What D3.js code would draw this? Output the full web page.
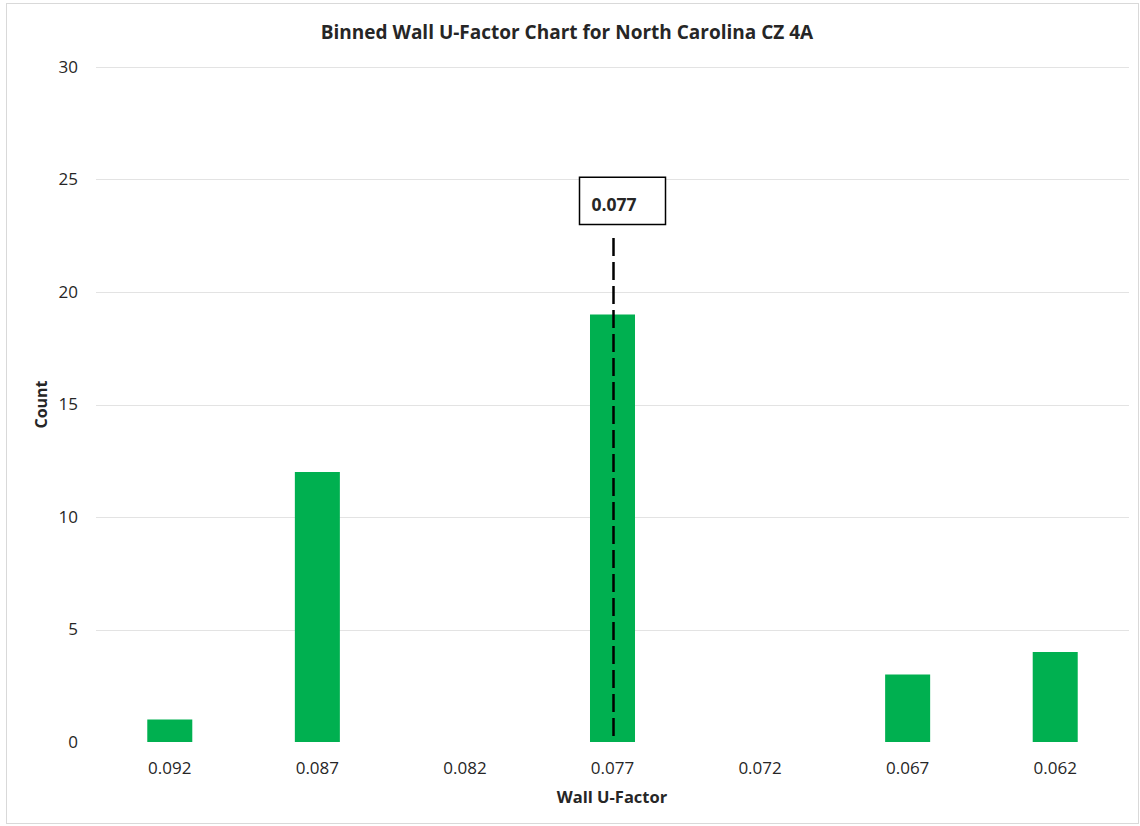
<!DOCTYPE html>
<html><head><meta charset="utf-8">
<script src="https://cdn.jsdelivr.net/npm/d3@7"></script>
<style>
html,body{margin:0;padding:0;background:#fff;}
svg{display:block;}
text{font-family:"Open Sans","Lato",sans-serif;fill:#262626;}
</style></head>
<body>
<svg id="chart" width="1140" height="826"></svg>
<script>
const categories = ["0.092","0.087","0.082","0.077","0.072","0.067","0.062"];
const counts = [1, 12, 0, 19, 0, 3, 4];
const yTicks = [0, 5, 10, 15, 20, 25, 30];
const markerCategory = "0.077";
const markerLabel = "0.077";
const title = "Binned Wall U-Factor Chart for North Carolina CZ 4A";
const xTitle = "Wall U-Factor";
const yTitle = "Count";

const svg = d3.select("#chart");
const W = 1140, H = 826;
const plot = {left: 96, right: 1129, top: 67, bottom: 742};

// outer chart border
svg.append("rect").attr("x", 6.5).attr("y", 3.5).attr("width", W - 8).attr("height", H - 6)
  .attr("fill", "#fff").attr("stroke", "#d9d9d9").attr("stroke-width", 1);

const x = d3.scaleBand().domain(categories).range([plot.left, plot.right]).paddingInner(0.695).paddingOuter(0.3475);
const y = d3.scaleLinear().domain([0, 30]).range([plot.bottom, plot.top]);

// gridlines
svg.append("g").selectAll("line").data(yTicks.filter(d => d > 0)).join("line")
  .attr("x1", plot.left).attr("x2", plot.right)
  .attr("y1", d => Math.round(y(d)) + 0.5).attr("y2", d => Math.round(y(d)) + 0.5)
  .attr("stroke", "#e3e3e3").attr("stroke-width", 1);

// y axis labels
const yAxis = d3.axisLeft(y).tickValues(yTicks).tickSize(0).tickPadding(0);
const ga = svg.append("g").attr("transform", `translate(78,0)`).call(yAxis);
ga.select(".domain").remove();
ga.selectAll("text").attr("font-size", 17).attr("fill", "#262626").style("font-family", '"Open Sans",sans-serif');

// bars
svg.append("g").selectAll("rect").data(categories).join("rect")
  .attr("x", d => x(d)).attr("width", x.bandwidth())
  .attr("y", (d, i) => y(counts[i])).attr("height", (d, i) => y(0) - y(counts[i]))
  .attr("fill", "#00b050");

// x axis labels
const xAxis = d3.axisBottom(x).tickSize(0).tickPadding(0);
const gx = svg.append("g").attr("transform", `translate(0,${plot.bottom})`).call(xAxis);
gx.select(".domain").remove();
gx.selectAll("text").attr("y", 32).attr("dy", null).attr("font-size", 17).attr("fill", "#262626").style("font-family", '"Open Sans",sans-serif');

// marker dashed line + box
const mx = x(markerCategory) + x.bandwidth() / 2 + 1;
svg.append("line").attr("x1", mx).attr("x2", mx).attr("y1", y(22.4)).attr("y2", y(0))
  .attr("stroke", "#000").attr("stroke-width", 2.5).attr("stroke-dasharray", "18,6");
const boxW = 86, boxTop = y(25.1), boxBot = y(23.0);
svg.append("rect").attr("x", mx - 34).attr("y", boxTop).attr("width", boxW).attr("height", boxBot - boxTop)
  .attr("fill", "#fff").attr("stroke", "#000").attr("stroke-width", 1.5);
svg.append("text").attr("x", mx - 22).attr("y", 211)
  .attr("font-size", 17.5).attr("font-weight", "bold").attr("fill", "#000").text(markerLabel);

// titles
svg.append("text").attr("x", 567).attr("y", 39).attr("text-anchor", "middle")
  .attr("font-size", 19).attr("font-weight", "bold").attr("fill", "#000").text(title);
svg.append("text").attr("x", 612).attr("y", 803).attr("text-anchor", "middle")
  .attr("font-size", 16.5).attr("font-weight", "bold").attr("fill", "#000").text(xTitle);
svg.append("text").attr("transform", `translate(47,${(plot.top + plot.bottom) / 2}) rotate(-90)`)
  .attr("text-anchor", "middle").attr("font-size", 16).attr("font-weight", "bold").attr("fill", "#000").text(yTitle);
</script>
</body></html>
